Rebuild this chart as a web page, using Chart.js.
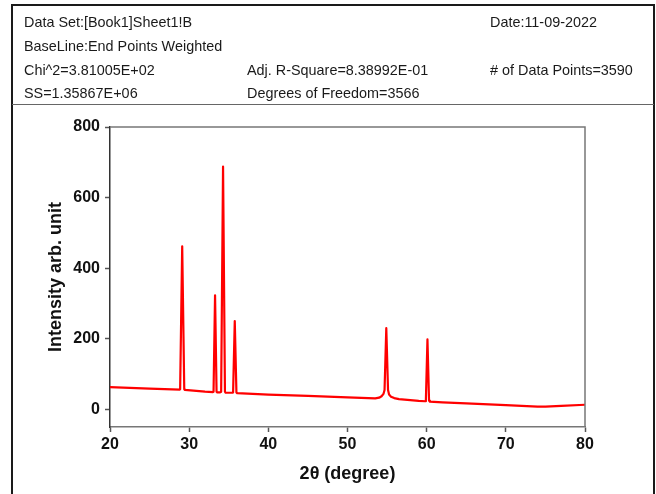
<!DOCTYPE html>
<html><head><meta charset="utf-8">
<script src="https://cdn.jsdelivr.net/npm/chart.js@4/dist/chart.umd.min.js"></script>
<style>
html,body{margin:0;padding:0;background:#fff;overflow:hidden}
#wrap{position:relative;width:656px;height:494px}
#c{position:absolute;left:0;top:0}
.box{position:absolute;left:11px;top:4px;width:644px;height:520px;border:2px solid #1a1a1a;box-sizing:border-box}
.sep{position:absolute;left:12px;top:104px;width:642px;height:0;border-top:1.5px solid #666}
.t{position:absolute;font:14.4px "Liberation Sans",Arial,sans-serif;line-height:16px;color:#1a1a1a;white-space:nowrap}
</style></head>
<body>
<div id="wrap">
<canvas id="c" width="656" height="494"></canvas>
<div class="box"></div>
<div class="sep"></div>
<div class="t" style="left:24px;top:14px">Data Set:[Book1]Sheet1!B</div>
<div class="t" style="left:490px;top:14px">Date:11-09-2022</div>
<div class="t" style="left:24px;top:38px">BaseLine:End Points Weighted</div>
<div class="t" style="left:24px;top:62px">Chi^2=3.81005E+02</div>
<div class="t" style="left:247px;top:62px">Adj. R-Square=8.38992E-01</div>
<div class="t" style="left:490px;top:62px"># of Data Points=3590</div>
<div class="t" style="left:24px;top:85px">SS=1.35867E+06</div>
<div class="t" style="left:247px;top:85px">Degrees of Freedom=3566</div>
</div>
<script>
const twoTheta = [20,25,28.8,28.86,29.12,29.38,29.45,
  32,33.0,33.08,33.27,33.46,33.55,33.9,34.04,34.28,34.52,34.6,
  35.45,35.55,35.76,35.97,36.06,40,45,50,53.5,54.0,54.3,54.55,54.68,54.9,55.12,55.25,55.5,55.9,56.5,
  59,59.8,59.9,60.1,60.3,60.4,62,65,70,74,75,77,80];
const intensity = [63,59,56,57,462,57,55,
  50,49,50,323,50,48,48,50,688,50,47,
  47,48,250,48,46,42,38,34,31,33,37,44,55,230,55,42,36,32,29,
  24,23,25,198,25,22,20,17,12,8,8,10,13];
const xTicks = [20,30,40,50,60,70,80];
const yTicks = [0,200,400,600,800];

const frame = {
  id:'frame',
  afterDatasetsDraw(chart){
    const {ctx, chartArea:a} = chart;
    ctx.save();
    ctx.strokeStyle='#777'; ctx.lineWidth=1.5;
    ctx.beginPath();
    ctx.moveTo(a.left,a.top); ctx.lineTo(a.right,a.top); ctx.lineTo(a.right,a.bottom);
    ctx.stroke();
    ctx.restore();
  }
};

new Chart(document.getElementById('c'), {
  type:'line',
  data:{datasets:[{
    data: twoTheta.map((x,i)=>({x, y:intensity[i]})),
    borderColor:'#ff0000', borderWidth:2.2, pointRadius:0, tension:0, fill:false, borderJoinStyle:'round'
  }]},
  options:{
    responsive:false, animation:false,
    layout:{padding:{left:0,right:71,top:127,bottom:0}},
    plugins:{legend:{display:false}, tooltip:{enabled:false}},
    scales:{
      x:{type:'linear', min:20, max:80,
        afterBuildTicks(s){ s.ticks = xTicks.map(v=>({value:v})); },
        afterFit(s){ s.height = 67; },
        grid:{drawOnChartArea:false, tickLength:5, color:'#555', tickWidth:1.5},
        border:{color:'#777', width:1.5},
        ticks:{color:'#111', padding:3, maxRotation:0, font:{family:'"Liberation Sans", Arial', size:16, weight:'bold'}},
        title:{display:true, text:'2θ (degree)', color:'#111', padding:{top:0,bottom:9}, font:{family:'"Liberation Sans", Arial', size:18, weight:'bold'}}
      },
      y:{type:'linear', min:-50, max:800,
        afterBuildTicks(s){ s.ticks = yTicks.map(v=>({value:v})); },
        afterFit(s){ s.width = 110; },
        grid:{drawOnChartArea:false, tickLength:5, color:'#555', tickWidth:1.5},
        border:{color:'#333', width:1.5},
        ticks:{color:'#111', padding:5, font:{family:'"Liberation Sans", Arial', size:16, weight:'bold'}},
        title:{display:true, text:'Intensity arb. unit', color:'#111', padding:{top:45,bottom:0}, font:{family:'"Liberation Sans", Arial', size:18, weight:'bold'}}
      }
    }
  },
  plugins:[frame]
});
</script>
</body></html>
